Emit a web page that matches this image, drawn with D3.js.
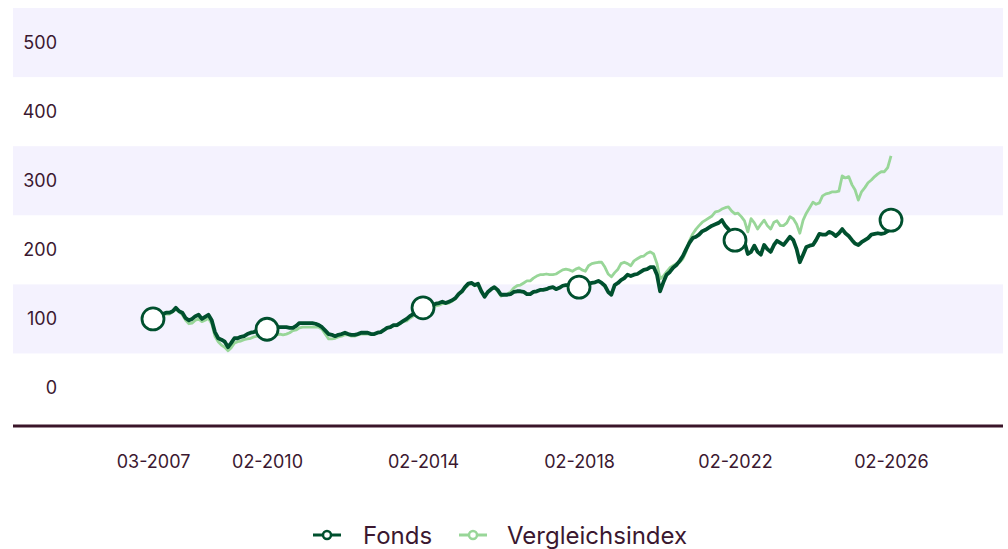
<!DOCTYPE html>
<html><head><meta charset="utf-8">
<script src="https://cdn.jsdelivr.net/npm/d3@7"></script>
<style>body{margin:0;background:#fff;} svg{display:block;font-family:Inter, "Noto Sans", sans-serif;}</style>
</head><body><svg id="c" width="1008" height="549"></svg>
<script>
const startMonth = "2007-03";
const seriesNames = ["Fonds", "Vergleichsindex"];
const fonds = [100,103,104,107,109,109,111,116,111,109, 101,98,100,104,106,100,103,106,98,81, 72,70,67,59,65,72,72,74,75,78, 80,81,83,83,84,85,
87,87,88,88,88,88,87,87,90,94, 94,94,94,94,93,91,88,83,78,77, 75,77,78,80,
78,77,77,78,80,80,80,78,78,80, 81,84,87,88,91,91,94,97,100,104, 107,110,113,116,
117,119,120,122,123,125,123,125,127,130, 136,140,146,151,152,149,151,140,132,139, 143,146,142,135,135,135,136,139,140,140, 139,136,136,139,140,142,
142,143,145,146,143,145,148,149,149,148, 146,146,148,149,151,152,153,155,152,148, 139,135,149,152,156,159,164,162,164,165, 168,171,172,175,175,164,
140,153,164,168,174,178,184,191,201,210, 217,219,222,227,229,232,235,237,239,243, 235,230,222,214,213,211,211,194,197,206, 197,193,207,201,197,207,
213,210,207,213,219,214,201,182,193,204, 206,207,214,223,222,222,226,224,220,224, 230,224,220,214,209,207,211,214,217,222, 223,224,223,224,227,243];
const vergleichsindex = [100,103,104,106,107,107,110,114,110,106, 98,93,94,98,100,96,98,101,93,75, 67,62,59,54,58,65,67,68,70,71, 72,74,75,75,77,77,
77,77,77,78,77,78,80,83,84,87, 88,88,88,88,88,88,85,78,71,71, 72,74,75,77,
77,75,75,77,78,78,78,78,78,80, 81,84,87,88,90,90,93,96,97,101, 104,107,110,113,
114,116,117,119,120,122,122,123,126,129, 135,139,145,149,151,148,149,140,133,139, 143,146,140,133,135,136,139,145,148,149, 152,155,155,159,162,164,
164,165,164,164,165,168,171,172,171,169, 172,174,171,169,177,180,181,182,182,175, 165,161,167,172,180,182,180,177,184,187, 190,191,195,197,194,180,
158,162,168,174,177,180,182,187,198,213, 223,230,235,240,243,246,249,255,256,259, 261,262,256,252,253,248,242,226,245,239, 230,237,243,235,230,240,
242,235,235,239,248,245,237,224,243,253, 261,269,266,268,278,281,282,284,284,285, 307,304,306,294,287,272,284,290,297,301, 306,310,313,313,319,336];
const tickMonths = ["2007-03","2010-02","2014-02","2018-02","2022-02","2026-02"];
const tickLabels = ["03-2007","02-2010","02-2014","02-2018","02-2022","02-2026"];
const yTicks = [0,100,200,300,400,500];

const cFonds = "#00502e", cIndex = "#98d698", cText = "#3b1830", cBand = "#f4f2fe";
const svg = d3.select("#c");
const parse = d3.timeParse("%Y-%m");
const start = parse(startMonth);
const dates = d3.range(fonds.length).map(i => d3.timeMonth.offset(start, i));
const x = d3.scaleTime().domain([dates[0], dates[dates.length-1]]).range([153, 891]);
const y = d3.scaleLinear().domain([-55, 550]).range([426, 8]);

// bands
svg.append("g").selectAll("rect").data(yTicks.filter(t => (t/100) % 2 === 1)).join("rect")
  .attr("x", 13).attr("width", 990)
  .attr("y", d => y(d+50)).attr("height", d => y(d-50) - y(d+50))
  .attr("fill", cBand);

// y axis
const ya = svg.append("g").attr("transform", "translate(57,0)")
  .call(d3.axisLeft(y).tickValues(yTicks).tickSize(0).tickPadding(0));
ya.select(".domain").remove();
ya.selectAll("text").attr("fill", cText).style("font-size", "18px").style("font-family", "Inter");

// x axis
const tickDates = tickMonths.map(parse);
const xa = svg.append("g").attr("transform", "translate(0,426)")
  .call(d3.axisBottom(x).tickValues(tickDates).tickFormat((d,i) => tickLabels[i]).tickSize(0).tickPadding(29));
xa.select(".domain").remove();
xa.selectAll("text").attr("fill", cText).style("font-size", "18px").style("font-family", "Inter");

svg.append("line").attr("x1", 13).attr("x2", 1003).attr("y1", 426).attr("y2", 426)
  .attr("stroke", "#3a1529").attr("stroke-width", 3);

const line = d3.line().x((d,i) => x(dates[i])).y(d => y(d));
svg.append("path").datum(vergleichsindex).attr("d", line).attr("fill", "none")
  .attr("stroke", cIndex).attr("stroke-width", 2.8).attr("stroke-linejoin", "round");
svg.append("path").datum(fonds).attr("d", line).attr("fill", "none")
  .attr("stroke", cFonds).attr("stroke-width", 3.8).attr("stroke-linejoin", "round");

// markers
const markerIdx = tickDates.map(td => dates.findIndex(d => +d === +td));
svg.append("g").selectAll("circle").data(markerIdx).join("circle")
  .attr("cx", i => x(dates[i])).attr("cy", i => y(fonds[i])).attr("r", 11)
  .attr("fill", "#fff").attr("stroke", cFonds).attr("stroke-width", 2.8);

// legend
const legend = [{name: seriesNames[0], color: cFonds, sx: 313, tx: 363}, {name: seriesNames[1], color: cIndex, sx: 459, tx: 507}];
const lg = svg.append("g").selectAll("g").data(legend).join("g");
lg.append("line").attr("x1", d => d.sx).attr("x2", d => d.sx + 28).attr("y1", 535).attr("y2", 535)
  .attr("stroke", d => d.color).attr("stroke-width", 3);
lg.append("circle").attr("cx", d => d.sx + 14).attr("cy", 535).attr("r", 4)
  .attr("fill", "#fff").attr("stroke", d => d.color).attr("stroke-width", 2.5);
lg.append("text").attr("x", d => d.tx).attr("y", 535).attr("dy", "0.36em")
  .attr("fill", cText).style("font-size", "24px").style("font-family", "Inter").text(d => d.name);
</script>
</body></html>
